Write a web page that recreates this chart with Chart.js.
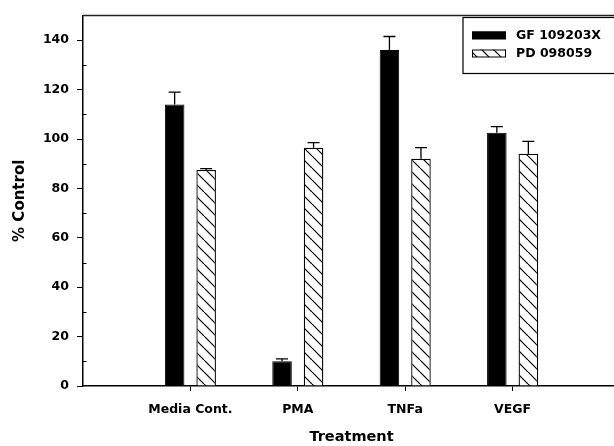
<!DOCTYPE html>
<html>
<head>
<meta charset="utf-8">
<script src="https://cdn.jsdelivr.net/npm/chart.js@4.4.1/dist/chart.umd.min.js"></script>
<style>
  html, body { margin: 0; padding: 0; background: #fff; overflow: hidden; }
  #wrap { width: 631px; height: 446px; }
</style>
</head>
<body>
<div id="wrap"><canvas id="c" width="631" height="446"></canvas></div>
<script>
// Treatment groups and measured responses (% of control, mean + upper error)
const categories = ['Media Cont.', 'PMA', 'TNFa', 'VEGF'];
const seriesNames = ['GF 109203X', 'PD 098059'];
const gfValues = [114, 10, 136, 102.5];
const gfErrors = [5, 1, 5.5, 2.5];
const pdValues = [87.5, 96.5, 92, 94];
const pdErrors = [0.5, 2, 4.5, 5];
const yTicks = [0, 20, 40, 60, 80, 100, 120, 140];
const yMinorTicks = [10, 30, 50, 70, 90, 110, 130];
const yMax = 150;

const FONT = 'DejaVu Sans';

// Diagonal hatch fill for the second series
function makeHatch() {
  const s = 12;
  const c = document.createElement('canvas');
  c.width = s; c.height = s;
  const g = c.getContext('2d');
  g.fillStyle = '#fff';
  g.fillRect(0, 0, s, s);
  g.strokeStyle = '#000';
  g.lineWidth = 1.2;
  [-s, 0, s].forEach(k => {
    g.beginPath();
    g.moveTo(k, 0);
    g.lineTo(k + s, s);
    g.stroke();
  });
  return g.createPattern(c, 'repeat');
}
const hatch = makeHatch();

// Blank slots on each side give the empty margin left/right of the groups
const labels = ['', ...categories, ''];
const pad = arr => [null, ...arr, null];

// Upward-only error bars with caps
const errorBars = {
  id: 'errorBars',
  afterDatasetsDraw(chart) {
    const ctx = chart.ctx, y = chart.scales.y;
    ctx.save();
    ctx.strokeStyle = '#000';
    ctx.lineWidth = 1.3;
    chart.data.datasets.forEach((ds, di) => {
      const meta = chart.getDatasetMeta(di);
      meta.data.forEach((bar, i) => {
        const v = ds.data[i], e = ds.errors[i];
        if (v == null || e == null) return;
        const top = y.getPixelForValue(v + e);
        ctx.beginPath();
        ctx.moveTo(bar.x, bar.y);
        ctx.lineTo(bar.x, top);
        ctx.moveTo(bar.x - 6, top);
        ctx.lineTo(bar.x + 6, top);
        ctx.stroke();
      });
    });
    ctx.restore();
  }
};

// Boxed legend in the upper right corner
const boxLegend = {
  id: 'boxLegend',
  afterDatasetsDraw(chart) {
    const ctx = chart.ctx;
    const bx = 463, by = 17.5, bw = 180, bh = 56;
    ctx.save();
    ctx.fillStyle = '#fff';
    ctx.fillRect(bx, by, bw, bh);
    ctx.strokeStyle = '#000';
    ctx.lineWidth = 1.2;
    ctx.strokeRect(bx, by, bw, bh);
    chart.data.datasets.forEach((ds, i) => {
      const sy = i === 0 ? 31.5 : 49.5;
      ctx.fillStyle = ds.backgroundColor;
      ctx.fillRect(472, sy, 34, 7.5);
      ctx.strokeStyle = '#000';
      ctx.lineWidth = 1;
      ctx.strokeRect(472.5, sy + 0.5, 33, 7);
      ctx.fillStyle = '#000';
      ctx.font = 'bold 12.5px "' + FONT + '"';
      ctx.textBaseline = 'middle';
      ctx.textAlign = 'left';
      ctx.fillText(ds.label, 516, sy + 4);
    });
    ctx.restore();
  }
};

// Top frame line and short inward minor ticks on the value axis
const frame = {
  id: 'frame',
  afterDraw(chart) {
    const { ctx, chartArea: a, scales: { y } } = chart;
    ctx.save();
    ctx.strokeStyle = '#222';
    ctx.lineWidth = 1.3;
    ctx.beginPath();
    ctx.moveTo(a.left, a.top);
    ctx.lineTo(a.right, a.top);
    ctx.stroke();
    ctx.strokeStyle = '#000';
    ctx.lineWidth = 1;
    yMinorTicks.forEach(v => {
      const p = Math.round(y.getPixelForValue(v)) + 0.5;
      ctx.beginPath();
      ctx.moveTo(a.left, p);
      ctx.lineTo(a.left + 3.5, p);
      ctx.stroke();
    });
    ctx.restore();
  }
};

new Chart(document.getElementById('c'), {
  type: 'bar',
  data: {
    labels: labels,
    datasets: [
      {
        label: seriesNames[0],
        data: pad(gfValues),
        errors: pad(gfErrors),
        backgroundColor: '#000',
        borderColor: '#000',
        borderWidth: 1
      },
      {
        label: seriesNames[1],
        data: pad(pdValues),
        errors: pad(pdErrors),
        backgroundColor: hatch,
        borderColor: '#000',
        borderWidth: 1.3
      }
    ]
  },
  options: {
    responsive: false,
    animation: false,
    devicePixelRatio: 1,
    categoryPercentage: 0.587,
    barPercentage: 0.62,
    layout: { padding: { top: 14, right: 2, left: 0, bottom: 0 } },
    plugins: {
      legend: { display: false },
      tooltip: { enabled: false }
    },
    scales: {
      x: {
        type: 'category',
        offset: false,
        grid: {
          display: true,
          offset: false,
          drawOnChartArea: false,
          drawTicks: true,
          tickLength: 5,
          tickWidth: 1,
          tickColor: c => (c.index >= 1 && c.index <= categories.length) ? '#000' : 'rgba(0,0,0,0)'
        },
        border: { display: true, color: '#000', width: 1.5 },
        ticks: {
          color: '#000',
          font: { family: FONT, weight: 'bold', size: 12.5 },
          padding: 11,
          maxRotation: 0,
          autoSkip: false
        },
        title: {
          display: true,
          text: 'Treatment',
          color: '#000',
          font: { family: FONT, weight: 'bold', size: 14.5 },
          padding: 0
        },
        afterFit: s => { s.height = 60; }
      },
      y: {
        min: 0,
        max: yMax,
        afterBuildTicks: s => { s.ticks = yTicks.map(v => ({ value: v })); },
        grid: { drawOnChartArea: false, tickLength: 6, tickColor: '#000', tickWidth: 1 },
        border: { display: true, color: '#000', width: 1.5 },
        ticks: {
          color: '#000',
          font: { family: FONT, weight: 'bold', size: 12.5 },
          padding: 8
        },
        title: {
          display: true,
          text: '% Control',
          color: '#000',
          font: { family: FONT, weight: 'bold', size: 15 },
          padding: 11
        },
        afterFit: s => { s.width = 83; }
      }
    }
  },
  plugins: [errorBars, boxLegend, frame]
});
</script>
</body>
</html>
